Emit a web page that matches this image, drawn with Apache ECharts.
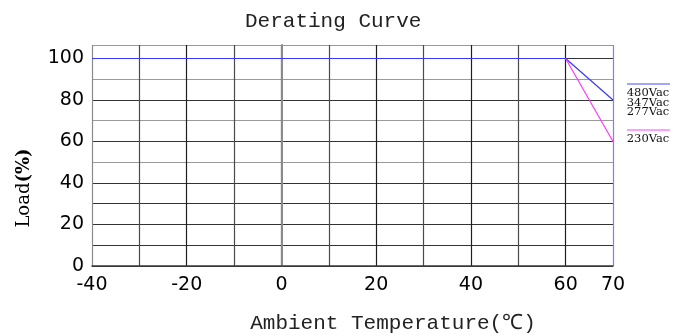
<!DOCTYPE html>
<html>
<head>
<meta charset="utf-8">
<script src="https://cdn.jsdelivr.net/npm/echarts@6/dist/echarts.min.js"></script>
<style>
  html, body { margin: 0; padding: 0; background: #fff; }
  #chart { width: 687px; height: 336px; }
</style>
</head>
<body>
<div id="chart"></div>
<script>
// Derating curve: output load versus ambient temperature
const titleText = 'Derating Curve';
const xName = 'Ambient Temperature(℃)';
const xTickLabels = [-40, -20, 0, 20, 40, 60, 70];
const yTickLabels = [0, 20, 40, 60, 80, 100];

// high-line input (480/347/277Vac)
const highLineTemp = [-40, 60, 70];
const highLineLoad = [100, 100, 80];
// low-line input (230Vac)
const lowLineTemp = [60, 70];
const lowLineLoad = [100, 60];

const legendItems = [
  { labels: ['480Vac', '347Vac', '277Vac'], color: '#4a4aff' },
  { labels: ['230Vac'], color: '#ff40ff' }
];

const pairs = (xs, ys) => xs.map((x, i) => [x, ys[i]]);

const chart = echarts.init(document.getElementById('chart'), null, { renderer: 'canvas' });

const gridLeft = 92, gridRight = 74, gridTop = 45, gridBottom = 70;

// vertical grid: first line light gray, last line blue, rest dark
const xSplitColors = [];
for (let v = -40; v <= 70; v += 10) {
  xSplitColors.push(v === -40 ? '#8a8a8a' : v === 70 ? '#7e7eff' : (v % 20 === 0 ? '#1e1e1e' : '#4a4a4a'));
}
// horizontal grid: 50/70/90 and top border lighter
const ySplitColors = ['#333', '#333', '#333', '#333', '#333', '#9a9a9a', '#333', '#9a9a9a', '#333', '#9a9a9a', '#333', '#9a9a9a'];

const legendGraphics = [];
let lx = 627, ly = 84;
legendItems.forEach((item) => {
  legendGraphics.push({
    type: 'line',
    shape: { x1: lx, y1: ly, x2: lx + 43, y2: ly },
    style: { stroke: item.color, lineWidth: 1.2 }
  });
  item.labels.forEach((t, j) => {
    legendGraphics.push({
      type: 'text',
      x: lx + 21, y: ly + 9.5 + j * 9.5,
      style: {
        text: t, fill: '#111', font: '11.5px "DejaVu Serif"',
        textAlign: 'center', textVerticalAlign: 'middle'
      }
    });
  });
  ly = 130;
});

chart.setOption({
  animation: false,
  backgroundColor: '#fff',
  title: {
    text: titleText,
    left: 240, top: 6,
    textStyle: { fontFamily: 'Liberation Mono', fontSize: 21, fontWeight: 'normal', color: '#222' }
  },
  grid: { left: gridLeft, right: gridRight, top: gridTop, bottom: gridBottom, containLabel: false },
  xAxis: {
    type: 'value',
    min: -40, max: 70, interval: 10,
    axisLine: { show: true, lineStyle: { color: '#3a3a3a', width: 1.5 } },
    axisTick: { show: false },
    axisLabel: {
      margin: 10,
      fontFamily: 'DejaVu Sans', fontSize: 19, color: '#000',
      formatter: v => (xTickLabels.includes(v) ? String(v) : '')
    },
    splitLine: { show: true, lineStyle: { color: xSplitColors, width: 1.2 } }
  },
  yAxis: {
    type: 'value',
    min: 0, max: 106.5, interval: 10,
    axisLine: { show: true, lineStyle: { color: '#8a8a8a', width: 2 } },
    axisTick: { show: false },
    axisLabel: {
      margin: 8,
      fontFamily: 'DejaVu Sans', fontSize: 19, color: '#000',
      formatter: v => (yTickLabels.includes(v) ? String(v) : '')
    },
    splitLine: { show: true, lineStyle: { color: ySplitColors, width: 1.2 } }
  },
  series: [
    {
      type: 'line', name: 'high', data: pairs(highLineTemp, highLineLoad),
      symbol: 'none', lineStyle: { color: '#3838ff', width: 1.2 }, z: 5
    },
    {
      type: 'line', name: 'low', data: pairs(lowLineTemp, lowLineLoad),
      symbol: 'none', lineStyle: { color: '#ff38ff', width: 1.2 }, z: 5
    }
  ],
  graphic: [
    {
      type: 'text', x: 393, y: 323,
      style: { text: xName, fill: '#222', font: '21px "Liberation Mono"', textAlign: 'center', textVerticalAlign: 'middle' }
    },
    {
      type: 'text', x: 24, y: 188, rotation: Math.PI / 2,
      style: {
        text: '{a|Load}{b|(%)}',
        textAlign: 'center', textVerticalAlign: 'middle',
        rich: {
          a: { fontFamily: 'DejaVu Serif', fontSize: 18, color: '#6a625c' },
          b: { fontFamily: 'DejaVu Serif', fontSize: 18, fontWeight: 'bold', color: '#555' }
        }
      }
    }
  ].concat(legendGraphics)
});
</script>
</body>
</html>
